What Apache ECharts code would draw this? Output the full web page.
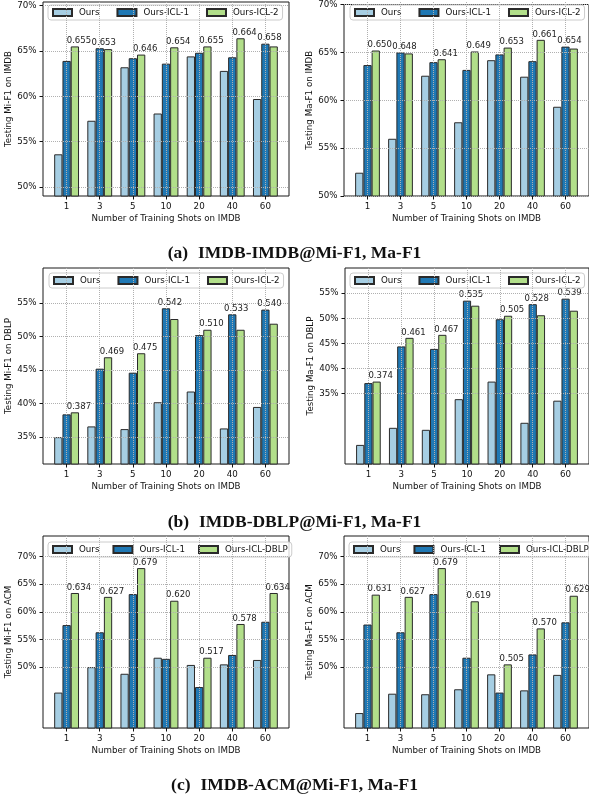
<!DOCTYPE html>
<html>
<head>
<meta charset="utf-8">
<script src="https://cdn.jsdelivr.net/npm/echarts@6/dist/echarts.min.js"></script>
<style>
  html, body { margin: 0; padding: 0; background: #ffffff; }
  #chart { width: 589px; height: 799px; }
</style>
</head>
<body>
<div id="chart"></div>
<script>
// Number of training shots (x categories, shared by every panel)
const shots = ['1', '3', '5', '10', '20', '40', '60'];
const namesICL = ['Ours', 'Ours-ICL-1', 'Ours-ICL-2'];
const namesDBLP = ['Ours', 'Ours-ICL-1', 'Ours-ICL-DBLP'];

// (a) IMDB -> IMDB
const imdbMiOurs = [0.536, 0.573, 0.632, 0.581, 0.644, 0.628, 0.597];
const imdbMiIcl1 = [0.639, 0.653, 0.642, 0.636, 0.648, 0.643, 0.658];
const imdbMiIcl2 = [0.655, 0.652, 0.646, 0.654, 0.655, 0.664, 0.655];
const imdbMaOurs = [0.524, 0.559, 0.624, 0.576, 0.640, 0.623, 0.592];
const imdbMaIcl1 = [0.635, 0.648, 0.638, 0.630, 0.646, 0.639, 0.654];
const imdbMaIcl2 = [0.650, 0.647, 0.641, 0.649, 0.653, 0.661, 0.652];

// (b) IMDB -> DBLP
const dblpMiOurs = [0.350, 0.366, 0.362, 0.402, 0.418, 0.363, 0.395];
const dblpMiIcl1 = [0.384, 0.452, 0.446, 0.542, 0.502, 0.533, 0.540];
const dblpMiIcl2 = [0.387, 0.469, 0.475, 0.526, 0.510, 0.510, 0.519];
const dblpMaOurs = [0.248, 0.282, 0.278, 0.339, 0.374, 0.292, 0.336];
const dblpMaIcl1 = [0.371, 0.444, 0.439, 0.535, 0.498, 0.528, 0.539];
const dblpMaIcl2 = [0.374, 0.461, 0.467, 0.525, 0.505, 0.506, 0.515];

// (c) IMDB -> ACM
const acmMiOurs = [0.454, 0.500, 0.488, 0.517, 0.504, 0.505, 0.513];
const acmMiIcl1 = [0.576, 0.563, 0.632, 0.515, 0.464, 0.522, 0.582];
const acmMiIcl2 = [0.634, 0.627, 0.679, 0.620, 0.517, 0.578, 0.634];
const acmMaOurs = [0.417, 0.452, 0.451, 0.460, 0.487, 0.458, 0.486];
const acmMaIcl1 = [0.577, 0.563, 0.632, 0.517, 0.454, 0.523, 0.581];
const acmMaIcl2 = [0.631, 0.627, 0.679, 0.619, 0.505, 0.570, 0.629];

// y tick labels
const ticksIMDB = [0.50, 0.55, 0.60, 0.65, 0.70];
const ticksDBLP = [0.35, 0.40, 0.45, 0.50, 0.55];
const ticksACM = [0.50, 0.55, 0.60, 0.65, 0.70];

const xTitle = 'Number of Training Shots on IMDB';
const captions = [
  ['(a)', 'IMDB-IMDB@Mi-F1, Ma-F1'],
  ['(b)', 'IMDB-DBLP@Mi-F1, Ma-F1'],
  ['(c)', 'IMDB-ACM@Mi-F1, Ma-F1']
];

const panels = [
  { data: [imdbMiOurs, imdbMiIcl1, imdbMiIcl2], names: namesICL, yTitle: 'Testing Mi-F1 on IMDB', ticks: ticksIMDB, min: 0.490, max: 0.704 },
  { data: [imdbMaOurs, imdbMaIcl1, imdbMaIcl2], names: namesICL, yTitle: 'Testing Ma-F1 on IMDB', ticks: ticksIMDB, min: 0.500, max: 0.700 },
  { data: [dblpMiOurs, dblpMiIcl1, dblpMiIcl2], names: namesICL, yTitle: 'Testing Mi-F1 on DBLP', ticks: ticksDBLP, min: 0.310, max: 0.602 },
  { data: [dblpMaOurs, dblpMaIcl1, dblpMaIcl2], names: namesICL, yTitle: 'Testing Ma-F1 on DBLP', ticks: ticksDBLP, min: 0.210, max: 0.600 },
  { data: [acmMiOurs, acmMiIcl1, acmMiIcl2], names: namesDBLP, yTitle: 'Testing Mi-F1 on ACM', ticks: ticksACM, min: 0.390, max: 0.737 },
  { data: [acmMaOurs, acmMaIcl1, acmMaIcl2], names: namesDBLP, yTitle: 'Testing Ma-F1 on ACM', ticks: ticksACM, min: 0.390, max: 0.737 }
];

// Layout of the six axes boxes (px from canvas edges) and their legends
const W = 589, H = 799;
const frames = [
  { left: 43,  right: 300, top: 2,   bottom: 603 },
  { left: 344, right: 0,   top: 2,   bottom: 603 },
  { left: 43,  right: 300, top: 268, bottom: 335 },
  { left: 345, right: 0,   top: 268, bottom: 335 },
  { left: 43,  right: 300, top: 536, bottom: 71 },
  { left: 344, right: 0,   top: 536, bottom: 71 }
];
const legendPos = [
  { left: 48,  top: 5,   gap: 17 },
  { left: 350, top: 5,   gap: 17 },
  { left: 49,  top: 273, gap: 17 },
  { left: 350, top: 273, gap: 17 },
  { left: 48,  top: 542, gap: 13 },
  { left: 349, top: 542, gap: 13 }
];
const captionTops = [244, 513, 776];

const colors = ['#a6cee3', '#1f78b4', '#b2df8a'];
const FONT = 'DejaVu Sans';
const FS = 8.7;
const TXT = '#111111';
const gridLine = { type: 'dotted', color: '#b0b0b0', width: 1 };

const grid = [], xAxis = [], yAxis = [], series = [], legend = [];

panels.forEach((p, k) => {
  const f = frames[k];
  const w = W - f.left - f.right;
  // matplotlib-style side margin around the outermost bars
  const pad = w * 0.2125 / 7.425;
  const og = 2 * k, ig = 2 * k + 1;

  // outer box: frame, y ticks, horizontal grid
  grid.push({ left: f.left, right: f.right, top: f.top, bottom: f.bottom, show: true,
    borderColor: '#1a1a1a', borderWidth: 1, backgroundColor: 'transparent' });
  // inner box: the bars
  grid.push({ left: f.left + pad, right: f.right + pad, top: f.top, bottom: f.bottom });

  xAxis.push({ type: 'value', gridIndex: og, min: 0, max: 1, show: false });
  xAxis.push({
    type: 'category', gridIndex: ig, data: shots, z: 6,
    axisLine: { show: false },
    axisTick: { show: true, alignWithLabel: true, length: 3.5, lineStyle: { color: '#111', width: 1 } },
    axisLabel: { margin: 6, fontFamily: FONT, fontSize: FS, color: TXT },
    splitLine: { show: true, alignWithLabel: true, lineStyle: gridLine },
    name: xTitle, nameLocation: 'middle', nameGap: 18,
    nameTextStyle: { fontFamily: FONT, fontSize: FS, color: TXT }
  });

  yAxis.push({
    type: 'value', gridIndex: og, min: p.min, max: p.max, z: 6,
    axisLine: { show: false },
    axisTick: { show: true, length: 3.5, customValues: p.ticks, lineStyle: { color: '#111', width: 1 } },
    axisLabel: { customValues: p.ticks, margin: 6.5, fontFamily: FONT, fontSize: FS, color: TXT,
      formatter: v => Math.round(v * 100) + '%' },
    splitLine: { show: true, lineStyle: gridLine },
    name: p.yTitle, nameLocation: 'middle', nameGap: 27,
    nameTextStyle: { fontFamily: FONT, fontSize: FS, color: TXT }
  });
  yAxis.push({ type: 'value', gridIndex: ig, min: p.min, max: p.max, show: false });

  // value label goes on the taller of the two ICL bars in each group
  const icl1 = p.data[1], icl2 = p.data[2];
  p.data.forEach((vals, s) => {
    series.push({
      type: 'bar', name: p.names[s], xAxisIndex: ig, yAxisIndex: ig,
      barWidth: '25%', barGap: '0%',
      itemStyle: { color: colors[s], borderColor: '#2a2a2a', borderWidth: 1 },
      label: { show: false, position: 'top', distance: 1, offset: [4, 0],
        fontFamily: FONT, fontSize: 8.5, color: '#222',
        formatter: d => d.value.toFixed(3) },
      data: vals.map((v, i) => {
        const top = icl1[i] > icl2[i] ? 1 : 2;
        return s === top ? { value: v, label: { show: true } } : v;
      })
    });
  });

  const L = legendPos[k];
  legend.push({
    left: L.left, top: L.top, width: 320, orient: 'horizontal',
    data: p.names, icon: 'rect', itemWidth: 19, itemHeight: 7, itemGap: L.gap,
    padding: [3, 4], backgroundColor: 'rgba(255,255,255,0.8)',
    borderColor: '#cccccc', borderWidth: 1, borderRadius: 3,
    selectedMode: false,
    textStyle: { fontFamily: FONT, fontSize: FS, color: TXT, padding: [0, 0, 0, 2] }
  });
});

const title = captions.map((c, k) => ({
  text: '{n|' + c[0] + '}  {b|' + c[1] + '}',
  left: 'center', top: captionTops[k], padding: 0,
  textStyle: {
    rich: {
      n: { fontFamily: 'Liberation Serif', fontSize: 17.5, color: '#111' },
      b: { fontFamily: 'Liberation Serif', fontSize: 17.5, fontWeight: 'bold', color: '#111' }
    }
  }
}));

const chart = echarts.init(document.getElementById('chart'), null, { renderer: 'canvas' });
chart.setOption({
  animation: false,
  backgroundColor: '#ffffff',
  title, grid, xAxis, yAxis, series, legend
});
</script>
</body>
</html>
